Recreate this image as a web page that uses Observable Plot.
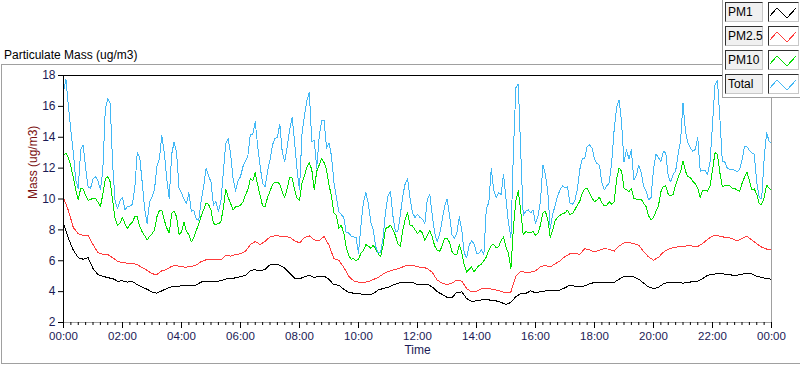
<!DOCTYPE html>
<html>
<head>
<meta charset="utf-8">
<script src="https://cdn.jsdelivr.net/npm/d3@7"></script>
<script src="https://cdn.jsdelivr.net/npm/@observablehq/plot@0.6"></script>
<style>
  body { margin: 0; background: #fff; }
  #wrap { position: relative; width: 800px; height: 365px; overflow: hidden; font-family: "Liberation Sans", Arial, sans-serif; color: #000; }
  #title { position: absolute; left: 4px; top: 48px; font-size: 12px; line-height: 14px; white-space: nowrap; }
  #panel { position: absolute; left: 1px; top: 64px; width: 799px; height: 298px; border-top: 1px solid #a0a0a0; border-left: 1px solid #a0a0a0; border-bottom: 1px solid #a0a0a0; }
  #chart { position: absolute; left: 0; top: 64px; }
  #legend { position: absolute; left: 722px; top: 0; width: 78px; height: 98px; box-sizing: border-box; background: #fff; border-left: 1px solid #a0a0a0; border-bottom: 1px solid #a0a0a0; }
  .lab { position: absolute; left: 2px; width: 38px; height: 20px; box-sizing: border-box; background: #f0f0f0; border-top: 1px solid #303030; border-left: 1px solid #303030; border-right: 1px solid #c8c8c8; border-bottom: 1px solid #c8c8c8; font-size: 12px; line-height: 18px; padding-left: 2px; white-space: nowrap; }
  .sw { position: absolute; left: 45px; width: 31px; height: 20px; box-sizing: border-box; background: #fff; border-top: 1px solid #303030; border-left: 1px solid #303030; border-right: 1px solid #c8c8c8; border-bottom: 1px solid #c8c8c8; }
  .sw svg { position: absolute; left: 0; top: 0; }
</style>
</head>
<body>
<div id="wrap">
  <div id="panel"></div>
  <div id="title">Particulate Mass (ug/m3)</div>
  <div id="chart"></div>
  <div id="legend"></div>
</div>
<script>
// ---- data ----
const seriesNames = ["PM1", "PM2.5", "PM10", "Total"];
const seriesColors = ["#000000", "#ff3c3c", "#00e000", "#42b8f5"];
const stepSlowMin = 10; // PM1 / PM2.5 sample step (minutes)
const stepFastMin = 5;  // PM10 / Total sample step (minutes)

const pm1 = [
  8.41, 7.44, 6.68, 6.2, 6.1, 6.2, 5.5, 5.1, 5.0, 4.9, 4.85, 4.68, 4.7, 4.62, 4.66, 4.45, 4.3, 4.15, 3.98, 3.9, 4.05, 4.2, 4.32, 4.35, 4.37, 4.4, 4.4, 4.43, 4.62, 4.66,
  4.66, 4.66, 4.7, 4.82, 4.82, 4.9, 4.97, 5.05, 5.37, 5.42, 5.33, 5.45, 5.74, 5.77, 5.72, 5.52, 5.2, 4.88, 4.83, 4.96, 5.05, 4.92, 5.0, 5.0, 4.8, 4.44, 4.42, 4.15,
  3.95, 3.9, 3.9, 3.8, 3.79, 3.86, 4.1, 4.2, 4.28, 4.42, 4.55, 4.6, 4.62, 4.6, 4.45, 4.48, 4.48, 4.3, 4.0, 3.82, 3.63, 3.62, 3.95, 3.98, 3.55, 3.38, 3.4, 3.46,
  3.47, 3.45, 3.4, 3.3, 3.17, 3.3, 3.68, 3.86, 3.88, 4.05, 3.92, 4.0, 4.04, 4.07, 4.07, 4.1, 4.25, 4.42, 4.35, 4.3, 4.38, 4.5, 4.6, 4.62, 4.6, 4.58, 4.6, 4.8, 5.0,
  4.98, 4.95, 4.8, 4.55, 4.3, 4.2, 4.28, 4.5, 4.62, 4.62, 4.6, 4.55, 4.58, 4.66, 4.68, 4.85, 5.05, 5.12, 5.16, 5.15, 5.12, 5.07, 5.07, 5.12, 5.2, 5.15, 5.0, 4.92, 4.85, 4.8
];
const pm25 = [
  10.08, 9.25, 8.15, 7.75, 7.63, 7.65, 7.05, 6.52, 6.42, 6.4, 6.2, 5.97, 5.87, 5.85, 5.85, 5.75, 5.55, 5.38, 5.15, 5.12, 5.35, 5.44, 5.65, 5.68, 5.6, 5.59, 5.62, 5.72, 5.95, 6.06,
  6.08, 6.05, 6.05, 6.35, 6.3, 6.4, 6.45, 6.6, 7.05, 7.25, 7.05, 7.25, 7.55, 7.62, 7.6, 7.58, 7.52, 7.3, 7.15, 7.5, 7.62, 7.35, 7.3, 7.58, 7.0, 6.13, 6.03, 5.58,
  5.0, 4.7, 4.62, 4.6, 4.64, 4.78, 4.92, 5.14, 5.3, 5.4, 5.48, 5.6, 5.72, 5.7, 5.6, 5.58, 5.5, 5.25, 4.75, 4.55, 4.46, 4.55, 4.75, 4.68, 4.2, 3.98, 4.02, 4.18,
  4.18, 4.17, 4.1, 4.02, 3.92, 3.98, 5.0, 5.3, 5.25, 5.27, 5.35, 5.6, 5.7, 5.6, 5.8, 6.0, 6.28, 6.45, 6.5, 6.4, 6.78, 6.7, 6.58, 6.68, 6.78, 6.75, 6.62, 6.95, 7.16,
  7.17, 7.11, 7.0, 6.58, 6.25, 6.04, 6.22, 6.55, 6.75, 6.85, 6.9, 6.9, 6.98, 6.95, 6.92, 7.12, 7.38, 7.6, 7.62, 7.55, 7.5, 7.45, 7.28, 7.45, 7.58, 7.35, 7.1, 6.88, 6.76, 6.74
];
const pm10 = [
  12.86, 12.95, 12.7, 12.1, 11.4, 10.6, 9.95, 10.7, 10.65, 10.25, 9.93, 9.95, 10.06, 10.05, 9.8, 9.5, 10.3, 11.3, 11.45, 11.1, 9.9, 8.7, 8.3, 8.45, 8.8, 8.4, 8.1, 8.35, 8.5, 8.85,
  8.85, 8.22, 7.87, 7.63, 7.33, 7.58, 7.75, 7.98, 8.85, 9.25, 9.25, 8.62, 8.12, 7.8, 9.05, 9.22, 8.85, 7.7, 7.85, 8.5, 7.9, 7.7, 7.22, 7.5, 7.95, 8.4, 8.9, 9.3,
  9.75, 9.65, 9.3, 8.4, 8.35, 8.4, 8.5, 9.4, 10.65, 10.1, 9.7, 9.3, 9.5, 9.5, 9.6, 9.8, 10.25, 10.6, 11.3, 11.2, 11.7, 10.9, 10.2, 9.55, 9.5, 10.1, 10.5, 10.93, 11.1,
  11.1, 10.95, 10.45, 10.1, 10.7, 11.4, 11.35, 10.6, 10.05, 9.9, 11.0, 11.5, 12.05, 12.35, 11.9, 10.6, 11.8, 12.2, 12.65, 12.35, 11.9, 10.9, 10.2, 9.1, 8.95, 8.1, 8.3, 7.8,
  6.9, 6.36, 6.1, 6.15, 6.0, 6.1, 6.5, 6.65, 7.05, 6.95, 6.8, 7.0, 6.75, 6.46, 6.25, 7.0, 8.1, 8.15, 8.3, 8.0, 7.65, 7.1, 6.95, 7.95, 8.7, 9.1, 8.3, 8.25, 8.0,
  7.77, 7.95, 7.8, 7.3, 7.65, 7.95, 7.54, 6.95, 6.7, 6.6, 6.95, 7.45, 7.45, 7.2, 6.6, 6.42, 6.4, 7.05, 6.55, 5.75, 5.25, 5.45, 5.6, 5.27, 5.5, 5.7, 5.78, 6.0,
  6.25, 6.68, 7.0, 7.05, 6.85, 6.9, 7.3, 7.54, 6.9, 6.46, 5.5, 8.1, 9.9, 10.55, 9.2, 7.7, 7.87, 7.85, 7.8, 7.9, 7.65, 7.8, 8.3, 9.1, 9.2, 8.7, 7.5, 8.0, 8.62,
  8.8, 8.95, 9.06, 9.1, 9.28, 9.0, 9.05, 9.3, 9.6, 9.85, 10.37, 10.63, 10.69, 10.4, 10.05, 9.82, 9.93, 10.12, 9.75, 9.55, 9.6, 9.82, 9.65, 9.8, 11.3, 12.0, 11.8, 10.69,
  10.6, 10.47, 10.7, 10.05, 10.0, 9.95, 9.98, 9.72, 9.5, 8.9, 8.65, 8.8, 9.2, 9.55, 10.47, 10.8, 10.85, 10.3, 10.2, 10.3, 10.9, 11.4, 11.77, 12.45, 11.8, 11.45, 11.4, 11.15, 11.0, 10.7,
  10.1, 10.55, 10.55, 10.5, 10.85, 11.85, 13.0, 12.9, 11.7, 10.8, 10.85, 10.9, 10.85, 10.7, 10.69, 10.58, 10.5, 11.0, 11.4, 11.75, 11.2, 10.6, 10.65, 10.3, 9.7, 9.65, 10.1, 10.9, 10.7, 10.6
];
const total = [
  17.0, 17.74, 16.0, 14.4, 13.0, 11.2, 10.7, 13.2, 13.5, 12.0, 10.8, 10.69, 11.3, 11.45, 11.2, 10.6, 11.88, 15.8, 16.5, 16.2, 12.2, 9.8, 9.4, 9.9, 10.1, 9.3, 9.5, 9.55, 9.65, 10.7,
  13.0, 12.7, 11.1, 9.35, 8.42, 9.8, 10.15, 10.6, 12.1, 12.6, 14.1, 13.0, 11.3, 10.0, 12.9, 13.7, 13.0, 10.7, 10.4, 10.0, 9.7, 10.4, 9.2, 9.25, 8.7, 8.6, 9.9, 10.8,
  12.0, 11.5, 11.1, 9.6, 9.85, 9.2, 9.8, 11.7, 13.6, 13.9, 12.9, 11.3, 10.5, 11.2, 11.45, 12.1, 12.45, 12.8, 14.2, 14.2, 15.0, 13.4, 12.1, 11.0, 10.8, 11.8, 12.55, 13.5, 13.9,
  14.0, 14.85, 13.0, 12.4, 13.35, 14.5, 15.3, 13.7, 11.9, 10.6, 14.2, 15.4, 16.4, 16.9, 13.7, 13.8, 12.0, 14.0, 15.1, 15.1, 13.3, 13.62, 12.8, 11.1, 10.1, 9.17, 9.0, 8.8,
  7.8, 7.8, 7.6, 7.55, 7.5, 6.5, 8.3, 9.8, 10.4, 9.7, 8.5, 8.0, 6.9, 6.5, 6.57, 7.5, 9.17, 10.2, 10.47, 8.9, 7.9, 7.9, 8.95, 10.2, 11.0, 11.3, 10.0, 9.1, 8.8,
  9.0, 8.8, 8.7, 8.4, 10.0, 10.3, 8.95, 7.8, 7.22, 7.7, 8.6, 9.5, 10.0, 9.0, 7.7, 7.44, 7.8, 8.85, 8.0, 6.5, 6.2, 7.0, 7.3, 7.1, 6.5, 6.5, 6.7, 6.4,
  9.4, 9.75, 12.0, 10.6, 10.1, 10.4, 10.3, 11.6, 10.0, 8.45, 7.5, 13.0, 17.2, 17.45, 13.0, 8.95, 9.2, 9.3, 9.1, 9.3, 8.41, 8.9, 9.8, 12.2, 11.6, 10.5, 8.1, 9.0, 9.6,
  10.2, 10.6, 10.85, 10.7, 10.8, 9.75, 9.65, 9.9, 10.6, 11.9, 12.6, 12.64, 13.4, 13.5, 13.3, 12.6, 12.3, 12.2, 11.05, 10.6, 10.85, 11.05, 12.4, 14.5, 15.95, 16.4, 15.0, 12.4,
  13.2, 12.6, 13.18, 11.23, 11.5, 12.2, 11.7, 10.8, 10.5, 9.95, 10.1, 11.9, 12.9, 12.7, 12.4, 13.08, 13.0, 11.45, 11.1, 11.6, 11.8, 12.9, 13.75, 16.2, 14.4, 13.62, 13.3, 13.1, 13.2, 14.0,
  11.8, 11.85, 11.85, 11.6, 12.4, 14.8, 17.4, 17.7, 15.24, 12.43, 12.4, 12.0, 11.9, 11.95, 11.85, 11.77, 11.9, 12.5, 13.4, 13.4, 13.15, 13.0, 12.9, 11.05, 10.1, 10.0, 12.6, 14.3, 13.75, 13.62
];

const yTicks = [2, 4, 6, 8, 10, 12, 14, 16, 18];
const hourTicks = [0, 2, 4, 6, 8, 10, 12, 14, 16, 18, 20, 22, 24];
const hourLabels = ["00:00", "02:00", "04:00", "06:00", "08:00", "10:00", "12:00", "14:00", "16:00", "18:00", "20:00", "22:00", "00:00"];
const minorTicks = d3.range(0, 24 * 4 + 1).map(i => i / 4);

// ---- build table ----
const rows = [];
function addSeries(name, values, stepMin) {
  values.forEach((v, i) => rows.push({ series: name, hour: i * stepMin / 60, value: v }));
}
addSeries("PM1", pm1, stepSlowMin);
addSeries("PM2.5", pm25, stepSlowMin);
addSeries("PM10", pm10, stepFastMin);
addSeries("Total", total, stepFastMin);

const labelInk = "#1a1a55";

const chart = Plot.plot({
  width: 800,
  height: 301,
  marginLeft: 63,
  marginRight: 29,
  marginTop: 11,
  marginBottom: 43,
  style: { fontFamily: "'Liberation Sans', Arial, sans-serif", fontSize: "12px", background: "transparent", color: "#000", overflow: "visible" },
  x: { domain: [0, 24], axis: null },
  y: { domain: [2, 18], axis: null },
  color: { domain: seriesNames, range: seriesColors },
  marks: [
    Plot.lineY(rows, { x: "hour", y: "value", z: "series", stroke: "series", strokeWidth: 1, shapeRendering: "crispEdges" }),
    Plot.ruleY([18], { stroke: "#000" }),
    Plot.ruleX([0], { stroke: "#000" }),
    Plot.ruleY([2], { stroke: "#a0a0a0" }),
    Plot.ruleX([24], { stroke: "#a0a0a0" }),
    Plot.axisY(yTicks, { anchor: "left", tickSize: 5, tickPadding: 3, label: null, stroke: "#000", fill: labelInk, fontSize: 12 }),
    Plot.axisX(minorTicks, { anchor: "bottom", tickSize: 3, tickFormat: () => "", label: null, stroke: "#000" }),
    Plot.axisX(hourTicks, { anchor: "bottom", tickSize: 6, tickPadding: 3, label: null, stroke: "#000", fill: labelInk, fontSize: 11.5,
      tickFormat: d => hourLabels[hourTicks.indexOf(d)] }),
    Plot.text(["Mass (ug/m3)"], { frameAnchor: "left", dx: -30, rotate: -90, fill: "#7a1010", fontSize: 12 }),
    Plot.text(["Time"], { frameAnchor: "bottom", dy: 31, fill: labelInk, fontSize: 12 })
  ]
});
document.getElementById("chart").appendChild(chart);

// ---- legend ----
const legend = document.getElementById("legend");
seriesNames.forEach((name, i) => {
  const top = 2 + i * 24;
  const lab = document.createElement("div");
  lab.className = "lab";
  lab.style.top = top + "px";
  lab.textContent = name;
  legend.appendChild(lab);
  const sw = document.createElement("div");
  sw.className = "sw";
  sw.style.top = top + "px";
  sw.innerHTML = `<svg width="29" height="18"><polyline points="1,13 8,5 18,15 27,5" fill="none" stroke="${seriesColors[i]}" stroke-width="1" shape-rendering="crispEdges"/></svg>`;
  legend.appendChild(sw);
});
</script>
</body>
</html>
